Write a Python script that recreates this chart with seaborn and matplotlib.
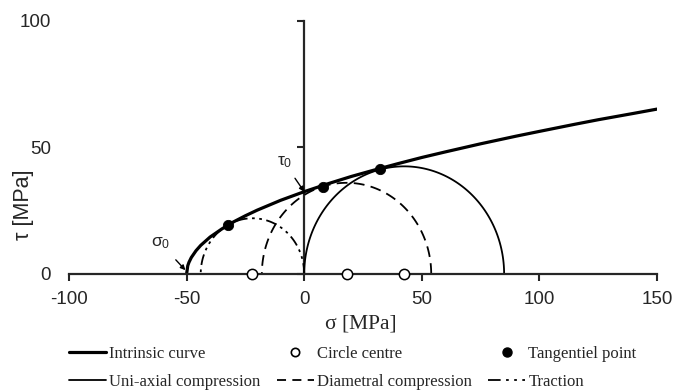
import numpy as np
import pandas as pd
import matplotlib
matplotlib.use("Agg")
import matplotlib.pyplot as plt
from matplotlib.lines import Line2D
import seaborn as sns

# ---- data ----
curve_sigma = [-50, -49.5, -49, -48, -46, -44, -40, -35, -30, -25, -20, -10, 0,
               10, 20, 30, 40, 50, 60, 75, 90, 100, 115, 125, 140, 150]
curve_tau = [0, 3.3, 4.6, 6.5, 9.2, 11.3, 14.6, 17.8, 20.6, 23.0, 25.2, 29.1, 32.5,
             35.6, 38.5, 41.1, 43.6, 46.0, 48.2, 51.4, 54.4, 56.3, 59.1, 60.9, 63.4, 65.1]

circle_names = ["Uni-axial compression", "Diametral compression", "Traction"]
circle_centres = [42.5, 18.0, -22.0]
circle_radii = [42.5, 36.0, 22.0]

tangent_sigma = [-32.2, 7.8, 32.3]
tangent_tau = [19.5, 34.5, 41.4]

x_ticks = [-100, -50, 0, 50, 100, 150]
y_ticks = [0, 50, 100]

# ---- style ----
sns.set_style("ticks")
plt.rcParams["font.family"] = ["Liberation Sans", "DejaVu Sans"]
plt.rcParams["mathtext.fontset"] = "custom"
plt.rcParams["mathtext.rm"] = "Liberation Sans"
plt.rcParams["mathtext.it"] = "Liberation Sans"
plt.rcParams["axes.unicode_minus"] = False

fig = plt.figure(figsize=(6.78, 3.92), dpi=100)
ax = fig.add_axes([69 / 678, 1 - 274 / 392, 588 / 678, 253.3 / 392])

# intrinsic curve
df_curve = pd.DataFrame({"sigma": curve_sigma, "tau": curve_tau})
sns.lineplot(data=df_curve, x="sigma", y="tau", ax=ax, color="black", lw=2.3,
             sort=False, estimator=None)

# Mohr circles (upper halves), drawn from centre and radius
theta = np.linspace(0, np.pi, 120)
dash_dia = (6, 3.5)
dash_tra = (6, 2.5, 1.5, 2.5, 1.5, 2.5)
styles = {
    "Uni-axial compression": dict(ls="-"),
    "Diametral compression": dict(dashes=dash_dia),
    "Traction": dict(dashes=dash_tra),
}
for name, c, r in zip(circle_names, circle_centres, circle_radii):
    d = pd.DataFrame({"sigma": c + r * np.cos(theta), "tau": r * np.sin(theta)})
    sns.lineplot(data=d, x="sigma", y="tau", ax=ax, color="black", lw=1.3,
                 sort=False, estimator=None, **styles[name])

# circle centres & tangential points
sns.scatterplot(x=circle_centres, y=[0] * len(circle_centres), ax=ax, s=55,
                facecolor="white", edgecolor="black", linewidth=1.1, zorder=5,
                clip_on=False)
sns.scatterplot(x=tangent_sigma, y=tangent_tau, ax=ax, s=55, color="black",
                edgecolor="black", zorder=5, clip_on=False)

ax.set_xlim(-100, 150)
ax.set_ylim(0, 100)
ax.set_xticks(x_ticks)
ax.set_yticks(y_ticks)
ax.tick_params(axis="x", direction="out", length=5, width=1.5, pad=7, labelsize=13.5)
ax.tick_params(axis="y", length=0, pad=13, labelsize=13.5)
for s in ["top", "right", "left"]:
    ax.spines[s].set_visible(False)
ax.spines["bottom"].set_linewidth(1.6)

# vertical axis line at sigma = 0
sec = ax.secondary_yaxis(0.4)
sec.set_yticks(y_ticks)
sec.set_yticklabels([])
sec.tick_params(direction="out", length=5, width=1.5)
sec.spines["left"].set_linewidth(1.6)

ax.set_xlabel("σ [MPa]", family="Liberation Serif", fontsize=15.5)
ax.xaxis.set_label_coords((361 - 69) / 588, (274 - 315) / 253.3)
ax.set_ylabel("τ [MPa]", fontsize=15.5)
ax.yaxis.set_label_coords((34 - 69) / 588, (274 - 205) / 253.3)

# annotations
ax.annotate(r"$\tau_0$", xy=(0, 32.5), xytext=(-8.5, 44), fontsize=12.5,
            ha="center", va="center",
            arrowprops=dict(arrowstyle="-|>", color="black", lw=1, mutation_scale=7,
                            shrinkA=4, shrinkB=0))
ax.annotate(r"$\sigma_0$", xy=(-50.5, 1.5), xytext=(-61, 12), fontsize=12.5,
            ha="center", va="center",
            arrowprops=dict(arrowstyle="-|>", color="black", lw=1, mutation_scale=7,
                            shrinkA=5, shrinkB=0))

# legend
h_curve = Line2D([], [], color="black", lw=2.3)
h_uni = Line2D([], [], color="black", lw=1.3)
h_dia = Line2D([], [], color="black", lw=1.3, dashes=(5, 3.5))
h_tra = Line2D([], [], color="black", lw=1.3, dashes=(7, 3, 1.5, 3, 1.5, 3))
h_cc = Line2D([], [], ls="none", marker="o", ms=6, mfc="white", mec="black", mew=1.2)
h_tp = Line2D([], [], ls="none", marker="o", ms=6.5, mfc="black", mec="black")
handles = [h_curve, h_uni, h_cc, h_dia, h_tp, h_tra]
labels = ["Intrinsic curve", "Uni-axial compression", "Circle centre",
          "Diametral compression", "Tangentiel point", "Traction"]
fig.legend(handles, labels, ncol=3, loc="upper left",
           bbox_to_anchor=(69 / 678, 1 - 346 / 392), frameon=False,
           prop={"family": "Liberation Serif", "size": 12},
           handlelength=2.2, handletextpad=0.2, columnspacing=1.0,
           labelspacing=0.72, borderpad=0, borderaxespad=0)

fig.savefig("out.png", dpi=100)
